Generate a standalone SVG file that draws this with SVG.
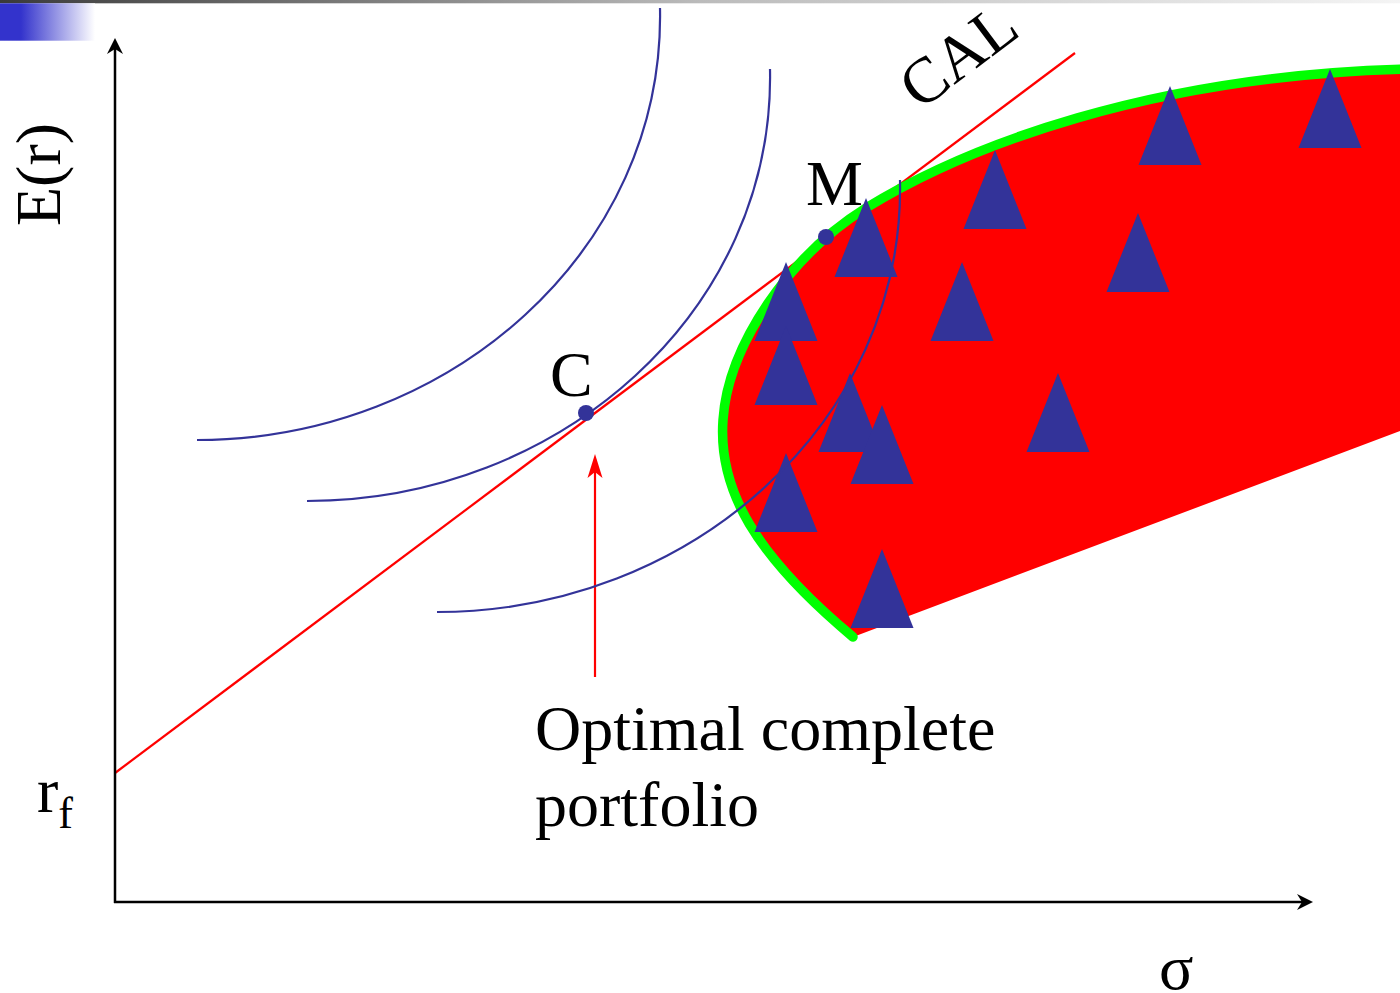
<svg xmlns="http://www.w3.org/2000/svg" width="1400" height="993" viewBox="0 0 1400 993">
<style>
.t{font-family:"Liberation Serif","Times New Roman",serif;fill:#000}
.ic{fill:none;stroke:#333399;stroke-width:2.2}
.ax{stroke:#000;stroke-width:2.5;fill:none}
.tri{fill:#333399}
</style>
<defs>
<linearGradient id="gbar" x1="0" y1="0" x2="1" y2="0">
<stop offset="0" stop-color="#3a3a3a"/><stop offset="0.5" stop-color="#bbbbbb"/><stop offset="1" stop-color="#f4f4f4"/>
</linearGradient>
<linearGradient id="gblue" x1="0" y1="0" x2="1" y2="0">
<stop offset="0" stop-color="#3333cc"/><stop offset="0.22" stop-color="#3333cc"/><stop offset="1" stop-color="#ffffff"/>
</linearGradient>
<marker id="ahk" viewBox="-12 -9 18 18" refX="0" refY="0" markerWidth="18" markerHeight="18" markerUnits="userSpaceOnUse" orient="auto">
<path d="M5,0 L-11,-8 L-6,0 L-11,8 Z" fill="#000"/>
</marker>
<marker id="ahr" viewBox="-20 -9 26 18" refX="0" refY="0" markerWidth="26" markerHeight="18" markerUnits="userSpaceOnUse" orient="auto">
<path d="M5,0 L-19,-7.5 L-13,0 L-19,7.5 Z" fill="#ff0000"/>
</marker>
<path id="tr" d="M0,0 L31.5,79 L-31.5,79 Z"/>
</defs>
<rect width="1400" height="993" fill="#fff"/>
<rect x="0" y="0" width="1400" height="3.3" fill="url(#gbar)"/>
<rect x="0" y="3.3" width="95" height="37.4" fill="url(#gblue)"/>

<g id="connectors">
<line x1="115" y1="773" x2="1075" y2="53" stroke="#ff0000" stroke-width="2.2"/>
<line class="ax" x1="115" y1="903" x2="115" y2="43" marker-end="url(#ahk)"/>
<line class="ax" x1="114" y1="902" x2="1308" y2="902" marker-end="url(#ahk)"/>
<line x1="595" y1="677" x2="595" y2="459" stroke="#ff0000" stroke-width="2.2" marker-end="url(#ahr)"/>
</g>

<g id="frontier">
<path d="M853,637 C755,555 718,490 723,420 C728,345 790,255 866,208 C965,147 1150,75 1400,69 L1400,431 Z" fill="#ff0000"/>
<path d="M853,637 C755,555 718,490 723,420 C728,345 790,255 866,208 C965,147 1150,75 1410,69" fill="none" stroke="#00ff00" stroke-width="9.5" stroke-linecap="round"/>
</g>

<g id="assets">
<use href="#tr" class="tri" x="866" y="198"/>
<use href="#tr" class="tri" x="786" y="262"/>
<use href="#tr" class="tri" x="786" y="326"/>
<use href="#tr" class="tri" x="850" y="373"/>
<use href="#tr" class="tri" x="882" y="405"/>
<use href="#tr" class="tri" x="786" y="453"/>
<use href="#tr" class="tri" x="882" y="549"/>
<use href="#tr" class="tri" x="995" y="150"/>
<use href="#tr" class="tri" x="1170" y="86"/>
<use href="#tr" class="tri" x="1330" y="69"/>
<use href="#tr" class="tri" x="1138" y="213"/>
<use href="#tr" class="tri" x="962" y="262"/>
<use href="#tr" class="tri" x="1058" y="373"/>
</g>

<g id="indifference-curves">
<path class="ic" d="M660,8 C665,250 450,440 197,440"/>
<path class="ic" d="M770,69 C775,311 560,501 307,501"/>
<path class="ic" d="M900,180 C905,422 690,612 437,612"/>
</g>

<g id="point-M">
<circle cx="826" cy="237" r="8" fill="#333399"/>
<text class="t" x="806" y="205" font-size="64">M</text>
</g>
<g id="point-C">
<circle cx="586" cy="413" r="8" fill="#333399"/>
<text class="t" x="550" y="396" font-size="64">C</text>
</g>
<g id="label-CAL">
<text class="t" font-size="64" transform="translate(920,111) rotate(-37)">CAL</text>
</g>
<g id="label-optimal">
<text class="t" x="535" y="750" font-size="64">Optimal complete</text>
<text class="t" x="535" y="826" font-size="64">portfolio</text>
</g>
<g id="axis-labels">
<text class="t" font-size="64" transform="translate(60,226) rotate(-90)">E(r)</text>
<text class="t" x="37" y="812" font-size="64">r<tspan font-size="44" dy="16">f</tspan></text>
<text class="t" x="1159" y="989" font-size="64">σ</text>
</g>
</svg>
